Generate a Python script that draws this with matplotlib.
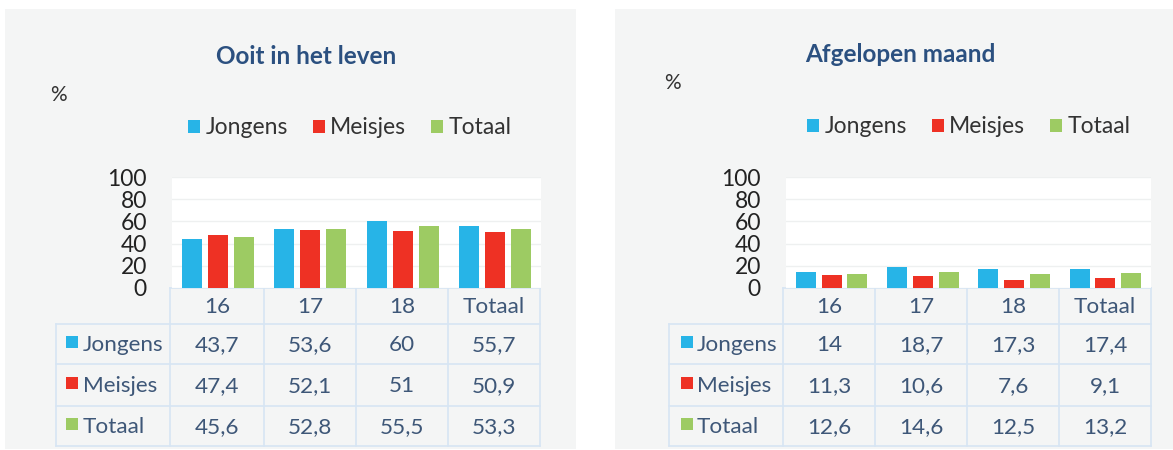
import numpy as np
import matplotlib
matplotlib.use("Agg")
import matplotlib.pyplot as plt
from matplotlib.patches import Rectangle, Patch

# ---------------- data ----------------
categories = ['16', '17', '18', 'Totaal']
series_names = ['Jongens', 'Meisjes', 'Totaal']
y_ticks = [0, 20, 40, 60, 80, 100]

ooit_jongens = [43.7, 53.6, 60, 55.7]
ooit_meisjes = [47.4, 52.1, 51, 50.9]
ooit_totaal = [45.6, 52.8, 55.5, 53.3]

maand_jongens = [14, 18.7, 17.3, 17.4]
maand_meisjes = [11.3, 10.6, 7.6, 9.1]
maand_totaal = [12.6, 14.6, 12.5, 13.2]

titles = ['Ooit in het leven', 'Afgelopen maand']

# ---------------- style ----------------
plt.rcParams['font.family'] = ['Lato', 'DejaVu Sans']
colors = ['#27B4E7', '#EE3124', '#9DCB63']
W, H = 1173, 450
BG = '#F4F5F5'
GRID_TABLE = '#D7E5F3'
TITLE_C = '#2B5080'
TABLE_C = '#3E5778'
TICK_C = '#222222'
FS = 16.2

fig = plt.figure(figsize=(W / 100, H / 100), dpi=100)
fig.patch.set_facecolor('white')

base = fig.add_axes([0, 0, 1, 1], zorder=0)
base.set_xlim(0, W)
base.set_ylim(H, 0)
base.axis('off')

panels = [
    dict(values=[ooit_jongens, ooit_meisjes, ooit_totaal], title=titles[0],
         bg=(5, 9, 576, 449), title_xy=(306, 57), pct_xy=(58, 95),
         leg_xy=(350, 128), plot=(172, 177, 541, 288),
         cols=[170, 264, 356, 448, 540], lab_left=56, sq_x=66, txt_x=83),
    dict(values=[maand_jongens, maand_meisjes, maand_totaal], title=titles[1],
         bg=(615, 9, 1173, 449), title_xy=(900, 54), pct_xy=(672, 83),
         leg_xy=(969, 127), plot=(786, 177, 1151, 288),
         cols=[783, 875, 967, 1059, 1151], lab_left=669, sq_x=681, txt_x=697),
]

row_lines = [288, 324, 364, 406, 446]


def fmt(v):
    return f"{v:g}".replace('.', ',')


for p in panels:
    x0, y0, x1, y1 = p['bg']
    base.add_patch(Rectangle((x0, y0), x1 - x0, y1 - y0, facecolor=BG,
                             edgecolor='none', zorder=0))
    base.text(p['title_xy'][0], p['title_xy'][1], p['title'], ha='center',
              va='center', fontsize=17.5, fontweight='bold', color=TITLE_C)
    base.text(p['pct_xy'][0], p['pct_xy'][1], '%', ha='center', va='center',
              fontsize=15, color='#333333')

    # bar chart
    px0, py0, px1, py1 = p['plot']
    ax = fig.add_axes([px0 / W, 1 - py1 / H, (px1 - px0) / W, (py1 - py0) / H],
                      zorder=2)
    ax.set_facecolor('white')
    x = np.arange(len(categories))
    offsets = [-0.282, 0.0, 0.282]
    for vals, off, c in zip(p['values'], offsets, colors):
        ax.bar(x + off, vals, width=0.217, color=c, edgecolor='none', zorder=3)
    ax.set_xlim(-0.5, len(categories) - 0.5)
    ax.set_ylim(0, 100)
    ax.set_yticks(y_ticks)
    ax.set_yticklabels([str(t) for t in y_ticks])
    ax.tick_params(axis='y', length=0, pad=18, labelsize=16.5, labelcolor=TICK_C)
    ax.tick_params(axis='x', length=0, labelbottom=False)
    for s in ax.spines.values():
        s.set_visible(False)
    ax.grid(axis='y', color='#EEF0F0', linewidth=1, zorder=0)
    ax.set_axisbelow(True)

    handles = [Patch(facecolor=c, edgecolor='none') for c in colors]
    leg = ax.legend(handles, series_names, loc='center',
                    bbox_to_anchor=(p['leg_xy'][0] / W, 1 - p['leg_xy'][1] / H),
                    bbox_transform=fig.transFigure, ncol=3, frameon=False,
                    fontsize=16.5, handlelength=0.5, handleheight=0.5,
                    handletextpad=0.25, columnspacing=1.1, borderpad=0)
    for t in leg.get_texts():
        t.set_color('#333333')

    # data table
    cols = p['cols']
    lab_left = p['lab_left']
    base.plot([cols[0], cols[-1]], [row_lines[0]] * 2, color=GRID_TABLE, lw=1.2, zorder=1)
    for yl in row_lines[1:]:
        base.plot([lab_left, cols[-1]], [yl] * 2, color=GRID_TABLE, lw=1.2, zorder=1)
    for xc in cols:
        base.plot([xc, xc], [row_lines[0], row_lines[-1]], color=GRID_TABLE,
                  lw=1.2, zorder=1)
    base.plot([lab_left, lab_left], [row_lines[1], row_lines[-1]],
              color=GRID_TABLE, lw=1.2, zorder=1)

    centers = [(cols[i] + cols[i + 1]) / 2 for i in range(len(categories))]
    hy = (row_lines[0] + row_lines[1]) / 2
    for cx, cat in zip(centers, categories):
        base.text(cx, hy + 1, cat, ha='center', va='center', fontsize=FS,
                  color=TABLE_C)
    for r, (name, vals, c) in enumerate(zip(series_names, p['values'], colors)):
        ry = (row_lines[r + 1] + row_lines[r + 2]) / 2
        base.add_patch(Rectangle((p['sq_x'], ry - 8), 12, 12, facecolor=c,
                                 edgecolor='none', zorder=2))
        base.text(p['txt_x'], ry + 1, name, ha='left', va='center',
                  fontsize=FS, color=TABLE_C)
        for cx, v in zip(centers, vals):
            base.text(cx, ry + 1, fmt(v), ha='center', va='center',
                      fontsize=FS, color=TABLE_C)

fig.savefig('out.png', dpi=100, facecolor='white')
